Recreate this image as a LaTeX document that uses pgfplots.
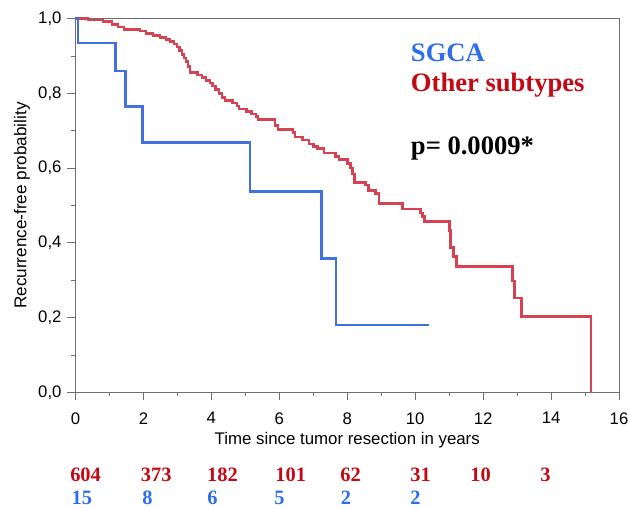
\documentclass[border=0pt]{standalone}
\usepackage{pgfplots}
\pgfplotsset{compat=1.18}
\usepackage{fontspec}
\setmainfont{Liberation Sans}
\newfontfamily\serifb{Liberation Serif}
\definecolor{kmblue}{RGB}{66,112,222}
\definecolor{kmred}{RGB}{214,66,82}
\definecolor{txtblue}{RGB}{45,110,235}
\definecolor{txtred}{RGB}{195,10,20}
\definecolor{axgray}{RGB}{110,110,110}
\tikzset{rr/.style={anchor=base west, inner sep=0, font=\serifb\bfseries\fontsize{20.5}{22}\selectfont, text=txtred},
 rb/.style={anchor=base west, inner sep=0, font=\serifb\bfseries\fontsize{20.5}{22}\selectfont, text=txtblue},
 ann/.style={anchor=base west, inner sep=0, font=\serifb\bfseries\fontsize{26.7}{30}\selectfont}}
\begin{document}
\begin{tikzpicture}
\begin{axis}[
 at={(0,0)}, anchor=south west,
 scale only axis, width=543.5bp, height=373.5bp,
 xmin=0,xmax=16,ymin=0,ymax=1,
 clip=false,
 axis line style={axgray, line width=0.9bp},
 xtick={0,2,4,6,8,10,12,14,16}, minor xtick={1,3,5,7,9,11,13,15},
 ytick={0,0.2,0.4,0.6,0.8,1}, minor ytick={0.1,0.3,0.5,0.7,0.9},
 tick align=outside, tick pos=left,
 major tick length=8bp, minor tick length=4bp,
 every major tick/.append style={draw=axgray, line width=1bp},
 every minor tick/.append style={draw=axgray, line width=0.9bp},
 ticklabel style={font=\fontsize{16.8}{18}\selectfont},
 xticklabel shift=8.5bp, yticklabel shift=2.5bp,
 /pgf/number format/assume math mode=true,
 yticklabel style={/pgf/number format/.cd, fixed, fixed zerofill, precision=1, use comma},
 xticklabel style={/pgf/number format/.cd, fixed, precision=0},
 xlabel={Time since tumor resection in years},
 ylabel={Recurrence-free probability},
 xlabel style={font=\fontsize{16.9}{18}\selectfont, at={(axis description cs:0.5,0)}, anchor=base, yshift=-52.5bp},
 ylabel style={font=\fontsize{17.2}{19}\selectfont, at={(axis description cs:-0.0905,0.5)}, anchor=base},
]
\addplot[const plot mark left, kmred, line width=2.6bp, line join=miter] coordinates {
(0,1.0) (0.37,0.997) (0.81,0.992) (1.07,0.985) (1.25,0.978) (1.43,0.972)
(1.90,0.967) (2.07,0.961) (2.28,0.956) (2.49,0.950) (2.66,0.945) (2.78,0.940)
(2.90,0.933) (2.99,0.925) (3.07,0.915) (3.13,0.905) (3.19,0.895) (3.25,0.885)
(3.31,0.872) (3.37,0.856) (3.60,0.850) (3.72,0.843) (3.84,0.835) (3.96,0.828)
(4.04,0.820) (4.13,0.810) (4.22,0.800) (4.31,0.790) (4.40,0.782) (4.63,0.775)
(4.75,0.766) (4.81,0.758) (5.04,0.752) (5.19,0.745) (5.31,0.739) (5.37,0.731)
(5.87,0.715) (5.96,0.703) (6.40,0.695) (6.46,0.683) (6.69,0.675) (6.87,0.665)
(7.01,0.658) (7.13,0.652) (7.31,0.641) (7.66,0.632) (7.76,0.624) (8.01,0.613)
(8.10,0.600) (8.16,0.585) (8.21,0.562) (8.54,0.555) (8.63,0.540) (8.84,0.533)
(8.93,0.506) (9.63,0.491) (10.16,0.480) (10.22,0.470) (10.28,0.457) (11.01,0.433)
(11.04,0.387) (11.13,0.364) (11.22,0.337) (12.86,0.298) (12.92,0.253) (13.13,0.203)
(15.17,0.0)
};
\addplot[const plot mark left, kmblue, line width=2.6bp, line join=miter] coordinates {
(0,1.0) (0.07,0.935) (1.18,0.860) (1.48,0.765) (1.97,0.669) (5.14,0.537)
(7.25,0.359) (7.67,0.180) (10.42,0.180)
};
\pgfplotsinvokeforeach{0,2,4,6,8,10,12,14,16}{
  \draw[axgray, line width=1bp] (axis cs:#1,0) -- ++(0,-8bp);
}
\pgfplotsinvokeforeach{0,0.2,0.4,0.6,0.8,1}{
  \draw[axgray, line width=1bp] (axis cs:0,#1) -- ++(-8bp,0);
}
\node[ann, text=txtblue] at (axis cs:9.87,0.885) {SGCA};
\node[ann, text=txtred] at (axis cs:9.87,0.805) {Other subtypes};
\node[ann, text=black] at (axis cs:9.87,0.638) {p= 0.0009*};
\node[rr] at (axis cs:-0.16,-0.240) {604};
\node[rr] at (axis cs:1.92,-0.240) {373};
\node[rr] at (axis cs:3.87,-0.240) {182};
\node[rr] at (axis cs:5.88,-0.240) {101};
\node[rr] at (axis cs:7.79,-0.240) {62};
\node[rr] at (axis cs:9.85,-0.240) {31};
\node[rr] at (axis cs:11.62,-0.240) {10};
\node[rr] at (axis cs:13.68,-0.240) {3};
\node[rb] at (axis cs:-0.12,-0.3015) {15};
\node[rb] at (axis cs:1.96,-0.3015) {8};
\node[rb] at (axis cs:3.88,-0.3015) {6};
\node[rb] at (axis cs:5.85,-0.3015) {5};
\node[rb] at (axis cs:7.81,-0.3015) {2};
\node[rb] at (axis cs:9.85,-0.3015) {2};
\coordinate (bl) at (rel axis cs:0,0);
\coordinate (tr) at (rel axis cs:1,1);
\end{axis}
\pgfresetboundingbox
\path[use as bounding box] ([shift={(-75.5bp,-115.7bp)}]bl) rectangle ([shift={(9bp,18.8bp)}]tr);
\end{tikzpicture}
\end{document}
